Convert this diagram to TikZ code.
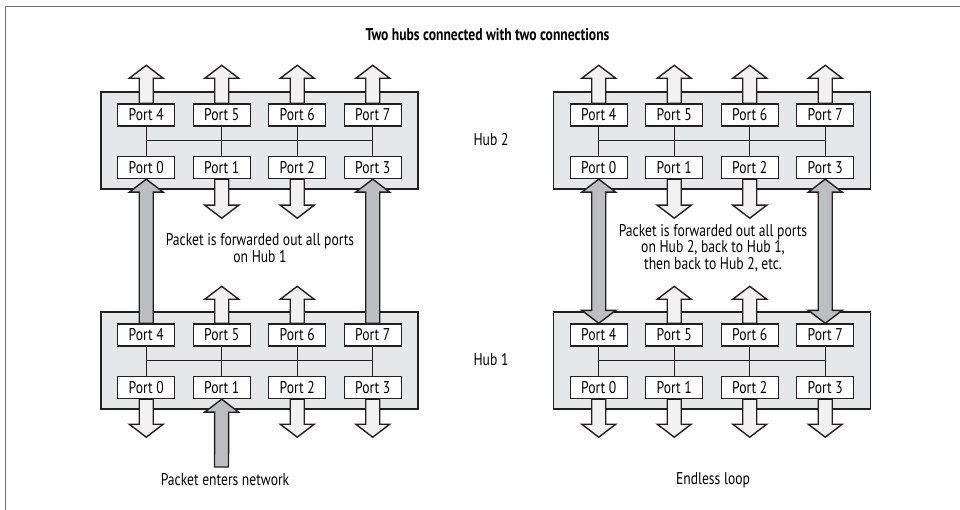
\documentclass[tikz,border=0pt]{standalone}
\usepackage{fontspec}
\setmainfont{PT Sans}[FakeStretch=0.8]
\usetikzlibrary{calc}
\definecolor{hubfill}{HTML}{E6E7E8}
\definecolor{outfill}{HTML}{F1F1F2}
\definecolor{grayfill}{HTML}{BCBEC0}
\definecolor{ink}{HTML}{231F20}
\definecolor{framecol}{HTML}{6D6E70}
\pgfdeclarelayer{hubs}
\pgfdeclarelayer{arrows}
\pgfsetlayers{hubs,arrows,main}
\newcommand\fatarr[3]{%
  \path (#2) coordinate (faA) (#3) coordinate (faB);
  \path ($(faB)!13pt!(faA)$) coordinate (faH);
  \draw[#1] ($(faA)!7pt!90:(faB)$) -- ($(faH)!7pt!90:(faB)$) -- ($(faH)!17pt!90:(faB)$) -- (faB)
    -- ($(faH)!17pt!-90:(faB)$) -- ($(faH)!7pt!-90:(faB)$) -- ($(faA)!7pt!-90:(faB)$) -- cycle;}
\newcommand\fatdarr[3]{%
  \path (#2) coordinate (faA) (#3) coordinate (faB);
  \path ($(faA)!13pt!(faB)$) coordinate (faG) ($(faB)!13pt!(faA)$) coordinate (faH);
  \draw[#1] (faA) -- ($(faG)!17pt!90:(faB)$) -- ($(faG)!7pt!90:(faB)$) -- ($(faH)!7pt!90:(faB)$)
    -- ($(faH)!17pt!90:(faB)$) -- (faB) -- ($(faH)!17pt!-90:(faB)$) -- ($(faH)!7pt!-90:(faB)$)
    -- ($(faG)!7pt!-90:(faB)$) -- ($(faG)!17pt!-90:(faB)$) -- cycle;}
\newcommand\hub[3]{%
  \begin{pgfonlayer}{hubs}
    \node[hubbox] (#1) at (#2,#3) {};
  \end{pgfonlayer}
  \foreach \i/\dx in {4/-113.25,5/-37.75,6/37.75,7/113.25}
    \node[portbox] (#1p\i) at ({#2+\dx},{#3-25.5}) {Port \i};
  \foreach \i/\dx in {0/-113.25,1/-37.75,2/37.75,3/113.25}
    \node[portbox] (#1p\i) at ({#2+\dx},{#3+27}) {Port \i};
  \draw[bus] (#1p4.south) -- (#1p0.north) (#1p5.south) -- (#1p1.north)
    (#1p6.south) -- (#1p2.north) (#1p7.south) -- (#1p3.north)
    (#1p4.south |- #1.center) -- (#1p7.south |- #1.center);}
\begin{document}
\begin{tikzpicture}[x=1pt,y=-1pt,
  hubbox/.style={draw=ink,fill=hubfill,line width=1.4pt,minimum width=317pt,minimum height=97pt,inner sep=0pt},
  portbox/.style={draw=ink,fill=white,line width=1.4pt,minimum width=57pt,minimum height=22pt,inner sep=0pt,font=\fontsize{17}{18}\selectfont},
  bus/.style={draw=ink,line width=1.2pt},
  outarr/.style={draw=ink,fill=outfill,line width=1.4pt},
  grayarr/.style={draw=ink,fill=grayfill,line width=1.4pt},
  lbl/.style={font=\fontsize{17}{16.5}\selectfont,align=center,inner sep=0pt}]
\useasboundingbox (0,0) rectangle (960,510);
\draw[framecol,line width=1pt] (5,510) -- (5,7) -- (960,7);
\node[font=\fontsize{17}{18}\selectfont\bfseries] (title) at (487.5,35) {Two hubs connected with two connections};
% left diagram
\hub{LB}{259.5}{140.5}
\hub{LA}{259.5}{360.5}
% right diagram
\hub{RB}{712}{140.5}
\hub{RA}{712}{360.5}
\node[lbl] (hubtwo) at (491,140) {Hub 2};
\node[lbl] (hubone) at (491,360) {Hub 1};
\node[lbl] (fwdL) at (260,248) {Packet is forwarded out all ports\\on Hub 1};
\node[lbl] (fwdR) at (713,248) {Packet is forwarded out all ports\\on Hub 2, back to Hub 1,\\then back to Hub 2, etc.};
\node[lbl] (enter) at (225,480) {Packet enters network};
\node[lbl] (loop) at (713,480) {Endless loop};
\coordinate (inL) at (221.5,467);
\begin{pgfonlayer}{arrows}
  \foreach \h in {LB,RB}{
    \foreach \p in {4,5,6,7} \fatarr{outarr}{\h p\p.north}{$(\h p\p.north)+(0,-38)$};
    \foreach \p in {1,2} \fatarr{outarr}{\h p\p.south}{$(\h p\p.south)+(0,39)$};
  }
  \foreach \h in {LA,RA}{
    \foreach \p in {5,6} \fatarr{outarr}{\h p\p.north}{$(\h p\p.north)+(0,-37)$};
  }
  \foreach \p in {0,2,3} \fatarr{outarr}{LAp\p.south}{$(LAp\p.south)+(0,38)$};
  \foreach \p in {0,1,2,3} \fatarr{outarr}{RAp\p.south}{$(RAp\p.south)+(0,38)$};
  \fatarr{grayarr}{LAp4.north}{LBp0.south}
  \fatarr{grayarr}{LAp7.north}{LBp3.south}
  \fatarr{grayarr}{inL}{LAp1.south}
  \fatdarr{grayarr}{RAp4.north}{RBp0.south}
  \fatdarr{grayarr}{RAp7.north}{RBp3.south}
\end{pgfonlayer}
\end{tikzpicture}
\end{document}
